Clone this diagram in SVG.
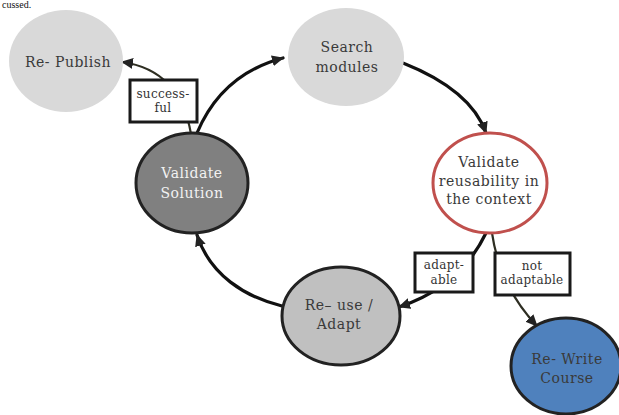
<svg xmlns="http://www.w3.org/2000/svg" width="619" height="415" viewBox="0 0 619 415">
  <defs>
    <style>
      .lbl { font-family: "DejaVu Serif", "Liberation Serif", serif; font-size: 14px; letter-spacing: 0.5px; text-anchor: middle; fill: #3a3a3a; }
      .tag { font-family: "DejaVu Serif", "Liberation Serif", serif; font-size: 12px; letter-spacing: 0.3px; text-anchor: middle; fill: #333; }
      .main { fill: none; stroke: #111; stroke-width: 3.2; stroke-linecap: round; }
      .branch { fill: none; stroke: #2e2e22; stroke-width: 2.2; stroke-linecap: round; }
      .box { fill: #fff; stroke: #1a1a1a; stroke-width: 3; }
      .ring { stroke: #222; stroke-width: 3; }
    </style>
    <marker id="arrow" markerUnits="userSpaceOnUse" markerWidth="12" markerHeight="12" viewBox="0 0 12 12" refX="11" refY="6" orient="auto">
      <path d="M0,0.5 L12,6 L0,11.5 z" fill="#222"/>
    </marker>
  </defs>

  <!-- caption line above the figure -->
  <text x="2" y="8" font-family="Liberation Serif, serif" font-size="10" fill="#111">cussed.</text>

  <!-- connectors -->
  <g id="connectors">
    <path class="main" d="M197,133 Q222,74 283,58" marker-end="url(#arrow)"/>
    <path class="branch" d="M191,134 Q180,70 122,62" marker-end="url(#arrow)"/>
    <path class="main" d="M403,63 Q471,90 486,133" marker-end="url(#arrow)"/>
    <path class="main" d="M486,233 Q460,287 399,307" marker-end="url(#arrow)"/>
    <path class="branch" d="M492,233 Q500,287 537,326" marker-end="url(#arrow)"/>
    <path class="main" d="M282,306 C245,297 210,275 197,235" marker-end="url(#arrow)"/>
  </g>

  <g id="re-publish">
    <ellipse cx="66" cy="61" rx="57" ry="51" fill="#d9d9d9"/>
    <text class="lbl" x="68" y="67">Re- Publish</text>
  </g>

  <g id="search-modules">
    <ellipse cx="346" cy="57" rx="58" ry="49" fill="#d9d9d9"/>
    <text class="lbl" x="347" y="52">Search</text>
    <text class="lbl" x="347" y="72">modules</text>
  </g>

  <g id="validate-reusability">
    <ellipse cx="490" cy="183" rx="57" ry="50" fill="#fff" stroke="#c0504d" stroke-width="3"/>
    <text class="lbl" x="489" y="167">Validate</text>
    <text class="lbl" x="489" y="186">reusability  in</text>
    <text class="lbl" x="489" y="204">the context</text>
  </g>

  <g id="validate-solution">
    <ellipse class="ring" cx="192" cy="183" rx="56" ry="50" fill="#808080"/>
    <text class="lbl" x="192" y="178" style="fill:#f2f2f2">Validate</text>
    <text class="lbl" x="192" y="198" style="fill:#f2f2f2">Solution</text>
  </g>

  <g id="re-use-adapt">
    <ellipse class="ring" cx="341" cy="316" rx="59" ry="49" fill="#c0c0c0"/>
    <text class="lbl" x="339" y="310">Re– use /</text>
    <text class="lbl" x="339" y="329">Adapt</text>
  </g>

  <g id="re-write-course">
    <ellipse class="ring" cx="566" cy="366" rx="55" ry="48" fill="#4f81bd"/>
    <text class="lbl" x="567" y="364">Re- Write</text>
    <text class="lbl" x="567" y="383">Course</text>
  </g>

  <!-- edge labels -->
  <g id="label-successful">
    <rect class="box" x="130" y="80" width="67" height="42"/>
    <text class="tag" x="163" y="98">success-</text>
    <text class="tag" x="163" y="112">ful</text>
  </g>
  <g id="label-adaptable">
    <rect class="box" x="415" y="253" width="58" height="39"/>
    <text class="tag" x="444" y="269">adapt-</text>
    <text class="tag" x="444" y="284">able</text>
  </g>
  <g id="label-not-adaptable">
    <rect class="box" x="495" y="253" width="75" height="42"/>
    <text class="tag" x="532" y="270">not</text>
    <text class="tag" x="532" y="284">adaptable</text>
  </g>
</svg>
